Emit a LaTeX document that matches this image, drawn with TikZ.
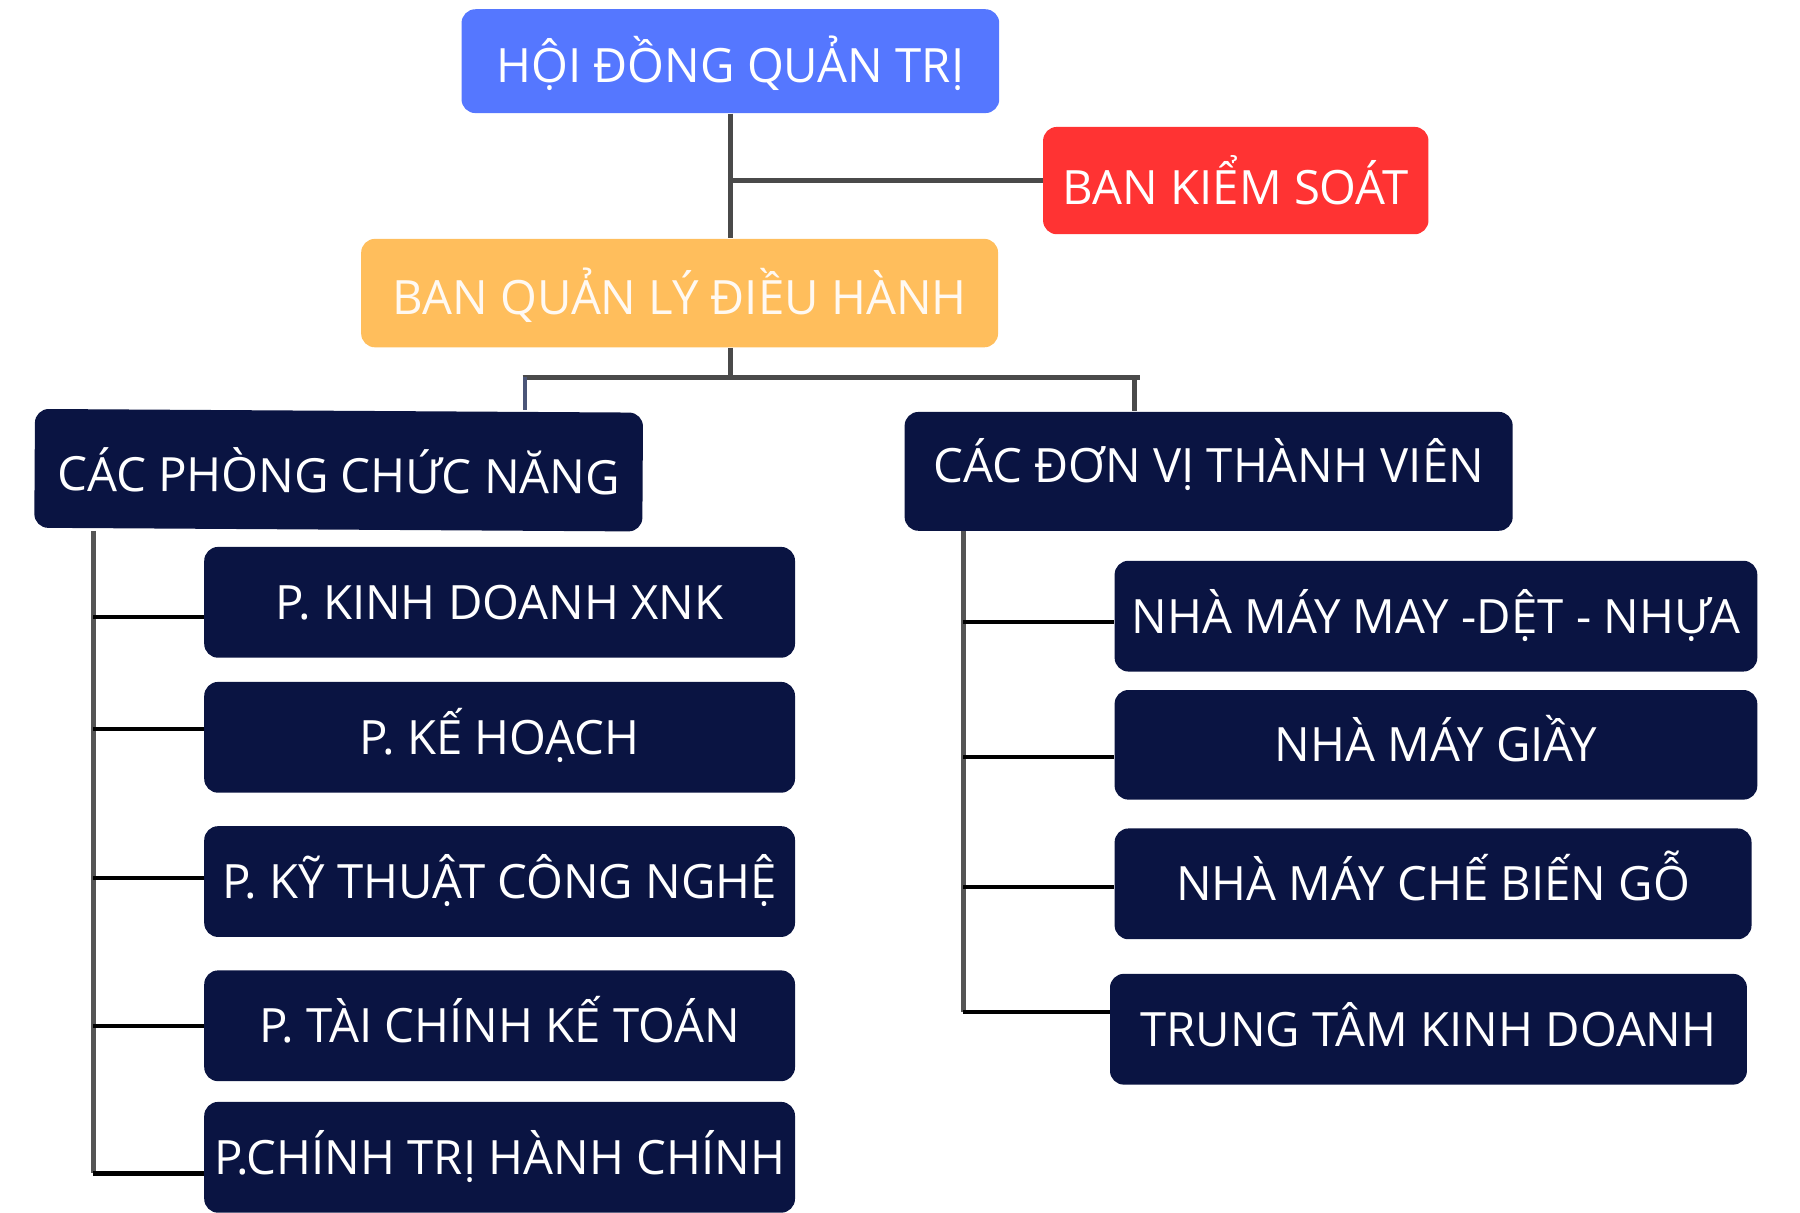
\documentclass[tikz,border=0pt]{standalone}
\usepackage{fontspec}
\setmainfont{Open Sans}
\usepackage{tikz}

\definecolor{hdblue}{HTML}{5577FF}
\definecolor{ksred}{HTML}{FF3333}
\definecolor{qlorange}{HTML}{FFBE5C}
\definecolor{navy}{HTML}{0A1442}
\definecolor{lnGray}{HTML}{4A4A4A}
\definecolor{trGray}{HTML}{555555}
\definecolor{slate}{HTML}{4B5578}

\begin{document}
\begin{tikzpicture}[x=0.5pt, y=-0.5pt,
    unit/.style = {rounded corners=6pt, inner sep=0pt, text=white,
                   font=\fontsize{20.5}{24}\selectfont,
                   text height=14.6pt, text depth=0pt},
    dept/.style = {unit, fill=navy, minimum height=48pt},
    main/.style = {draw=lnGray, line width=2.2pt},
    trunk/.style = {draw=trGray, line width=2pt},
    branch/.style = {draw=black, line width=1.8pt}]
    \useasboundingbox (0,0) rectangle (1560,1051);

    % top levels
    \node[unit, fill=hdblue, minimum width=233pt, minimum height=45pt, text height=18.5pt] (hdqt) at (633,53) {HỘI ĐỒNG QUẢN TRỊ};
    \node[unit, fill=ksred, minimum width=167pt, minimum height=46.5pt, text height=20.5pt] (bks) at (1071,156.5) {BAN KIỂM SOÁT};
    \node[unit, fill=qlorange, text=white!95!orange, minimum width=276pt, minimum height=47pt, text height=18.5pt] (bql) at (589,254) {BAN QUẢN LÝ ĐIỀU HÀNH};

    % two groups
    \node[dept, rotate=-0.35, minimum width=263.5pt, minimum height=51.5pt, text height=19.5pt] (cpcn) at (293.5,407.5) {CÁC PHÒNG CHỨC NĂNG};
    \node[dept, minimum width=263.5pt, minimum height=51.5pt, text depth=5pt] (cdvtv) at (1047.5,408.5) {CÁC ĐƠN VỊ THÀNH VIÊN};

    % left side
    \node[dept, minimum width=256pt] (kd) at (433,522) {P. KINH DOANH XNK};
    \node[dept, minimum width=256pt] (kh) at (433,639) {P. KẾ HOẠCH};
    \node[dept, minimum width=256pt] (kt) at (433,764) {P. KỸ THUẬT CÔNG NGHỆ};
    \node[dept, minimum width=256pt] (tc) at (433,889) {P. TÀI CHÍNH KẾ TOÁN};
    \node[dept, minimum width=256pt] (ct) at (433,1003) {P.CHÍNH TRỊ HÀNH CHÍNH};

    % right side
    \node[dept, minimum width=278.5pt] (may) at (1244.5,534) {NHÀ MÁY MAY -DỆT - NHỰA};
    \node[dept, minimum width=278.5pt, minimum height=47.5pt] (giay) at (1244.5,645.5) {NHÀ MÁY GIẦY};
    \node[dept, minimum width=276pt] (go) at (1242,766) {NHÀ MÁY CHẾ BIẾN GỖ};
    \node[dept, minimum width=276pt] (ttkd) at (1238,892) {TRUNG TÂM KINH DOANH};

    \coordinate (fkL) at (453,327);
    \coordinate (fkR) at (988,327);
    \coordinate (tL) at (81,460);
    \coordinate (tR) at (835,460);

    \draw[main] (hdqt.south) -- (hdqt.south |- bql.north);
    \draw[main] (hdqt.south |- bks.west) -- (bks.west);
    \draw[main] (hdqt.south |- bql.south) -- (hdqt.south |- fkL);
    \draw[main] (fkL) -- (fkR);
    \draw[slate, line width=1.8pt] ([xshift=1pt]fkL) -- ([xshift=1pt]fkL |- cpcn.north);
    \draw[main] ([xshift=-2.5pt]fkR) -- ([xshift=-2.5pt]fkR |- cdvtv.north);

    \draw[trunk] (tL) -- (tL |- 0,1017);
    \draw[branch] ([yshift=-6.5pt]tL |- kd.west) -- ([yshift=-6.5pt]kd.west);
    \draw[branch] ([yshift=3.5pt]tL |- kh.west) -- ([yshift=3.5pt]kh.west);
    \draw[branch] ([yshift=1.5pt]tL |- kt.west) -- ([yshift=1.5pt]kt.west);
    \draw[branch] (tL |- tc.west) -- (tc.west);
    \draw[branch] ([yshift=-7pt]tL |- ct.west) -- ([yshift=-7pt]ct.west);

    \draw[trunk] (tR) -- (tR |- 0,877);
    \draw[branch] ([yshift=-2.5pt]tR |- may.west) -- ([yshift=-2.5pt]may.west);
    \draw[branch] ([yshift=-5.25pt]tR |- giay.west) -- ([yshift=-5.25pt]giay.west);
    \draw[branch] ([yshift=-1.5pt]tR |- go.west) -- ([yshift=-1.5pt]go.west);
    \draw[branch] ([yshift=7.5pt]tR |- ttkd.west) -- ([yshift=7.5pt]ttkd.west);
\end{tikzpicture}
\end{document}
